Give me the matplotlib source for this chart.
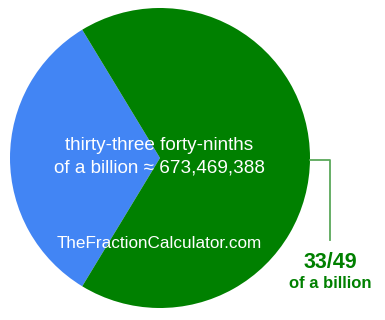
import matplotlib.pyplot as plt

# slice values (parts of 49)
labels = ["rest", "33/49"]
values = [16, 33]
colors = ["#4285F4", "#008000"]

W, H = 385, 320
fig = plt.figure(figsize=(W / 100, H / 100), dpi=100)
ax = fig.add_axes([0, 0, 1, 1])

cx, cy, r = 160, H - 158, 150
start = 180 - 360 * values[0] / sum(values) / 2
ax.pie(values, colors=colors, startangle=start, radius=r, center=(cx, cy),
       frame=True, wedgeprops=dict(linewidth=0))

ax.set_xlim(0, W)
ax.set_ylim(0, H)
ax.set_aspect("auto")
ax.axis("off")

font = ["Liberation Sans", "DejaVu Sans"]

ax.text(159, H - 145, "thirty-three forty-ninths", color="white", fontsize=13.6,
        family=font, ha="center", va="center")
ax.text(159.5, H - 168, "of a billion \u2248 673,469,388", color="white", fontsize=13.6,
        family=font, ha="center", va="center")
ax.text(159, H - 244, "TheFractionCalculator.com", color="white", fontsize=12.3,
        family=font, ha="center", va="center")

# leader line to the label
ax.plot([310, 330, 330], [H - 160, H - 160, H - 240], color="#5aa85a", lw=1.3)
ax.text(330, H - 262, labels[1], color="#008000", fontsize=15.5, fontweight="bold",
        family=font, ha="center", va="center")
ax.text(330, H - 284, "of a billion", color="#008000", fontsize=12, fontweight="bold",
        family=font, ha="center", va="center")

fig.savefig("out.png", dpi=100)
